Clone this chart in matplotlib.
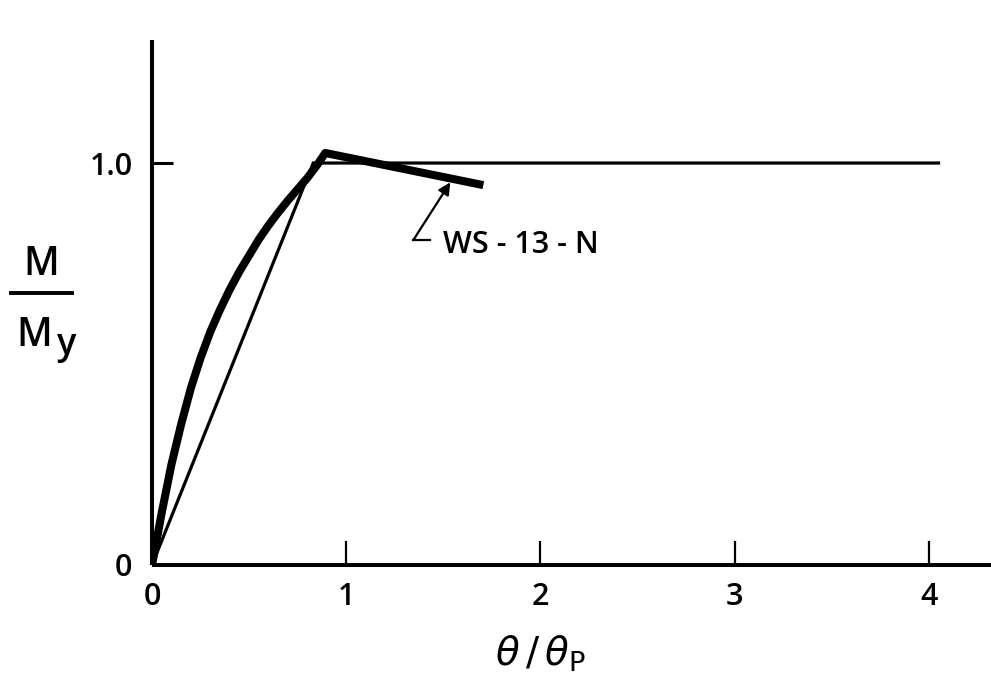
import matplotlib
matplotlib.use("Agg")
import matplotlib.pyplot as plt
from matplotlib.lines import Line2D

plt.rcParams['font.family'] = ['Open Sans', 'DejaVu Sans']
plt.rcParams['mathtext.fontset'] = 'dejavusans'

# Data
theta_test = [0, 0.05, 0.10, 0.15, 0.20, 0.25, 0.30, 0.35, 0.40, 0.45, 0.50, 0.55,
              0.60, 0.65, 0.70, 0.75, 0.80, 0.85, 0.892, 1.706]
m_test = [0, 0.13, 0.25, 0.35, 0.44, 0.515, 0.58, 0.635, 0.685, 0.73, 0.77, 0.81,
          0.845, 0.877, 0.907, 0.935, 0.963, 0.995, 1.025, 0.945]
theta_ideal = [0, 0.83, 4.05]
m_ideal = [0, 1.0, 1.0]
xticks = [0, 1, 2, 3, 4]
xticklabels = ['0', '1', '2', '3', '4']
yticks = [0, 1.0]
yticklabels = ['0', '1.0']
label_text = 'WS - 13 - N'

W = 'semibold'

fig = plt.figure(figsize=(9.91, 6.83), dpi=100)
ax = fig.add_axes([0.1534, 0.1728, 1 - 0.1534, 0.9414 - 0.1728])
ax.set_xlim(0, 4.32)
ax.set_ylim(0, 1.306)

for s in ['top', 'right']:
    ax.spines[s].set_visible(False)
for s in ['left', 'bottom']:
    ax.spines[s].set_linewidth(2.9)
    ax.spines[s].set_capstyle('butt')

ax.plot(theta_ideal, m_ideal, color='black', lw=2.3, solid_joinstyle='miter')
ax.plot(theta_test, m_test, color='black', lw=5.8, solid_capstyle='butt', solid_joinstyle='round')

ax.set_xticks(xticks)
ax.set_xticklabels(xticklabels, fontweight=W)
ax.set_yticks(yticks)
ax.set_yticklabels(yticklabels, fontweight=W)
ax.tick_params(axis='x', direction='in', length=17, width=1.6, labelsize=22, pad=12)
ax.tick_params(axis='y', direction='in', length=15, width=2.2, labelsize=22, pad=14)
ax.xaxis.get_major_ticks()[0].tick1line.set_visible(False)
ax.yaxis.get_major_ticks()[0].tick1line.set_visible(False)

# annotation: L-shaped leader with arrow
ax.plot([1.433, 1.345], [0.808, 0.808], color='black', lw=1.6)
ax.annotate('', xy=(1.536, 0.952), xytext=(1.345, 0.808),
            arrowprops=dict(arrowstyle='-|>', color='black', lw=1.6,
                            mutation_scale=18, shrinkA=0, shrinkB=0))
ax.text(1.50, 0.797, label_text, fontsize=22, va='center', ha='left', fontweight=W)

# axis labels
fig.text(0.5449, 0.041, r'$\theta\,/\,\theta_{\mathrm{P}}$', fontsize=28,
         ha='center', va='center')
fig.text(0.0414, 0.612, 'M', fontsize=28, ha='center', va='center', fontweight=W)
fig.add_artist(Line2D([0.011, 0.073], [0.571, 0.571], color='black', lw=2.8,
                      transform=fig.transFigure))
fig.text(0.035, 0.508, 'M', fontsize=28, ha='center', va='center', fontweight=W)
fig.text(0.066, 0.495, 'y', fontsize=26, ha='center', va='center', fontweight=W)

fig.savefig('out.png', dpi=100)
